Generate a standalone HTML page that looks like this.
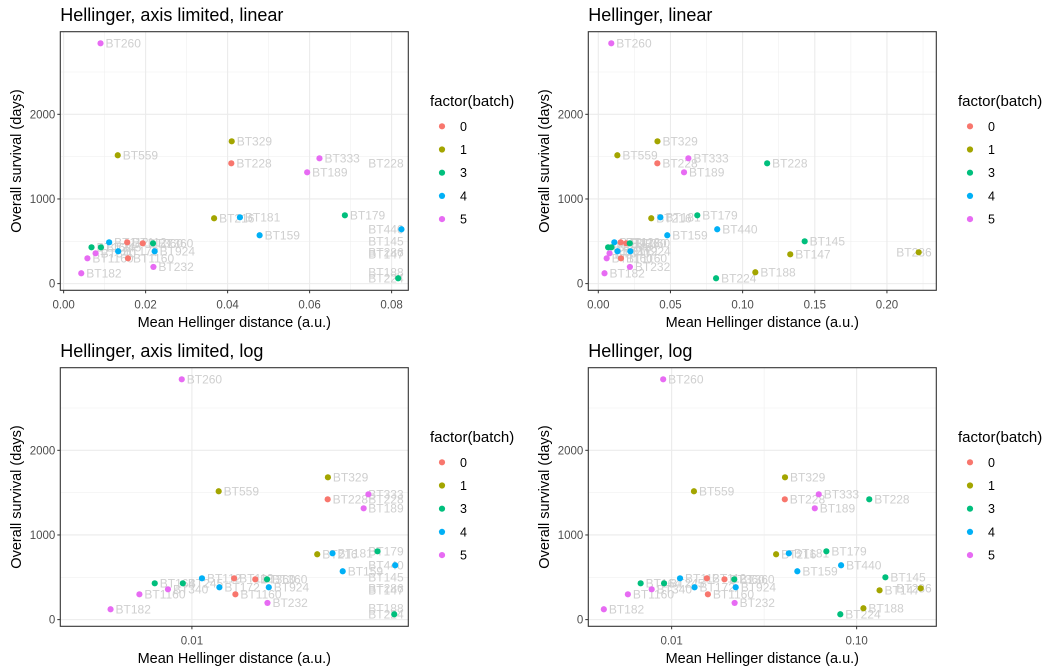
<!DOCTYPE html>
<html><head><meta charset="utf-8">
<style>
body{margin:0;background:#fff;}
svg{display:block;font-family:"Liberation Sans",sans-serif;}
</style></head>
<body>
<svg id="chart" width="1056" height="672" viewBox="0 0 1056 672" xmlns="http://www.w3.org/2000/svg"></svg>
<script>
const sampleNames = ["BT260","BT329","BT559","BT228","BT333","BT228","BT189","BT216","BT181","BT179","BT440","BT159","BT145","BT286","BT147","BT188","BT224","BT112","BT112","BT360","BT360","BT164","BT245","BT924","BT172","BT1160","BT340","BT1160","BT232","BT182"];
const distanceValues = [0.009,0.041,0.0132,0.0409,0.0624,0.117,0.0594,0.0367,0.043,0.0686,0.0824,0.0478,0.143,0.222,0.133,0.1088,0.0816,0.0111,0.0155,0.0193,0.0218,0.0068,0.0091,0.0222,0.0133,0.0157,0.0078,0.0058,0.0219,0.0043];
const survivalValues = [2839,1681,1516,1421,1480,1421,1315,772,783,807,642,571,500,370,346,134,63,488,488,476,476,429,429,382,382,299,358,299,197,122];
const batchValues = ["5","1","1","0","5","3","5","1","4","3","4","4","3","1","1","1","3","4","0","0","3","3","3","4","4","0","5","5","5","5"];
const batchLevels = ["0","1","3","4","5"];
const batchColors = ["#F8766D","#A3A500","#00BF7D","#00B0F6","#E76BF3"];
const yTicks = [0,1000,2000];
const yMinor = [500,1500,2500];
const linLimitedTicks = [0,0.02,0.04,0.06,0.08];
const linLimitedLabels = ["0.00","0.02","0.04","0.06","0.08"];
const linFullTicks = [0,0.05,0.1,0.15,0.2];
const linFullLabels = ["0.00","0.05","0.10","0.15","0.20"];

const NS="http://www.w3.org/2000/svg";
const svg=document.getElementById('chart');
function mk(tag,attrs,parent,text){const e=document.createElementNS(NS,tag);for(const k in attrs)e.setAttribute(k,attrs[k]);if(text!==undefined)e.textContent=text;(parent||svg).appendChild(e);return e;}

const panels=[
 {name:"axis-limited-linear",title:"Hellinger, axis limited, linear",ox:0,oy:0,log:false,dom:[-0.000813,0.08407],limit:0.083,ticks:linLimitedTicks,labels:linLimitedLabels,minor:[0.01,0.03,0.05,0.07]},
 {name:"linear",title:"Hellinger, linear",ox:528,oy:0,log:false,dom:[-0.00693,0.2342],limit:null,ticks:linFullTicks,labels:linFullLabels,minor:[0.025,0.075,0.125,0.175,0.225]},
 {name:"axis-limited-log",title:"Hellinger, axis limited, log",ox:0,oy:336,log:true,dom:[-2.593,-1.025],limit:0.083,ticks:[0.01],labels:["0.01"],minor:[]},
 {name:"log",title:"Hellinger, log",ox:528,oy:336,log:true,dom:[-2.4505,-0.5694],limit:null,ticks:[0.01,0.1],labels:["0.01","0.10"],minor:[Math.pow(10,-1.5)]}
];
const yDom=[-79,2976];

panels.forEach(p=>{
  const L=p.ox+60.3,R=p.ox+408.3,T=p.oy+31.7,B=p.oy+290.3;
  const xs=v=>{const t=p.log?Math.log10(v):v;return L+(t-p.dom[0])/(p.dom[1]-p.dom[0])*(R-L);};
  const ys=v=>B-(v-yDom[0])/(yDom[1]-yDom[0])*(B-T);
  const g=mk('g',{});
  
  
  const t=mk('text',{x:L,y:p.oy+21,'font-size':'18','fill':'#000'},g,p.title);
  
  
  const bg=mk('rect',{x:L,y:T,width:R-L,height:B-T,fill:'#fff'},g);
  
  
  yMinor.forEach(v=>{const l=mk('line',{x1:L,x2:R,y1:ys(v),y2:ys(v),stroke:'#f0f0f0','stroke-width':0.6},g);});
  p.minor.forEach(v=>{const l=mk('line',{x1:xs(v),x2:xs(v),y1:T,y2:B,stroke:'#f0f0f0','stroke-width':0.6},g);});
  yTicks.forEach(v=>{const l=mk('line',{x1:L,x2:R,y1:ys(v),y2:ys(v),stroke:'#ebebeb','stroke-width':1.1},g);
    const tk=mk('line',{x1:L-3,x2:L,y1:ys(v),y2:ys(v),stroke:'#333','stroke-width':1},g);
    const tl=mk('text',{x:L-5,y:ys(v)+4,'font-size':'11.5','fill':'#4d4d4d','text-anchor':'end'},g,String(v));});
  p.ticks.forEach((v,i)=>{const x=xs(v);const l=mk('line',{x1:x,x2:x,y1:T,y2:B,stroke:'#ebebeb','stroke-width':1.1},g);
    const tk=mk('line',{x1:x,x2:x,y1:B,y2:B+3,stroke:'#333','stroke-width':1},g);
    const tl=mk('text',{x:x,y:B+18,'font-size':'11.5','fill':'#4d4d4d','text-anchor':'middle'},g,p.labels[i]);});
  sampleNames.forEach((n,i)=>{
    const v=distanceValues[i];
    let x=xs(v); const y=ys(survivalValues[i]);
    if(p.limit&&v>p.limit){x=R-40;}
    const lb=mk('text',{x:Math.min(x+5,R-40),y:y+4,'font-size':'12','fill':'#cfcfcf'},g,n);
    
    
  });
  sampleNames.forEach((n,i)=>{
    const v=distanceValues[i];
    if(p.limit&&v>p.limit)return;
    const c=mk('circle',{cx:xs(v),cy:ys(survivalValues[i]),r:3.1,fill:batchColors[batchLevels.indexOf(batchValues[i])]},g);
    
    
  });
  const fr=mk('rect',{x:L,y:T,width:R-L,height:B-T,fill:'none',stroke:'#333','stroke-width':1.1},g);
  
  
  const xt=mk('text',{x:(L+R)/2,y:p.oy+327,'font-size':'14.5','fill':'#000','text-anchor':'middle'},g,'Mean Hellinger distance (a.u.)');
  
  
  const yt=mk('text',{x:0,y:0,'font-size':'14.5','fill':'#000','text-anchor':'middle',transform:`translate(${p.ox+21},${(T+B)/2}) rotate(-90)`},g,'Overall survival (days)');
  
  
  const lg=mk('g',{},g);
  
  
  const lt=mk('text',{x:p.ox+430,y:p.oy+106,'font-size':'15','fill':'#000'},lg,'factor(batch)');
  
  
  batchLevels.forEach((b,k)=>{
    const cy=p.oy+126.3+k*23.2;
    const e=mk('g',{},lg);
    
    
    mk('circle',{cx:p.ox+442,cy:cy,r:3.1,fill:batchColors[k]},e);
    mk('text',{x:p.ox+460,y:cy+4.5,'font-size':'12.5','fill':'#000'},e,b);
  });
});
</script>
</body></html>
